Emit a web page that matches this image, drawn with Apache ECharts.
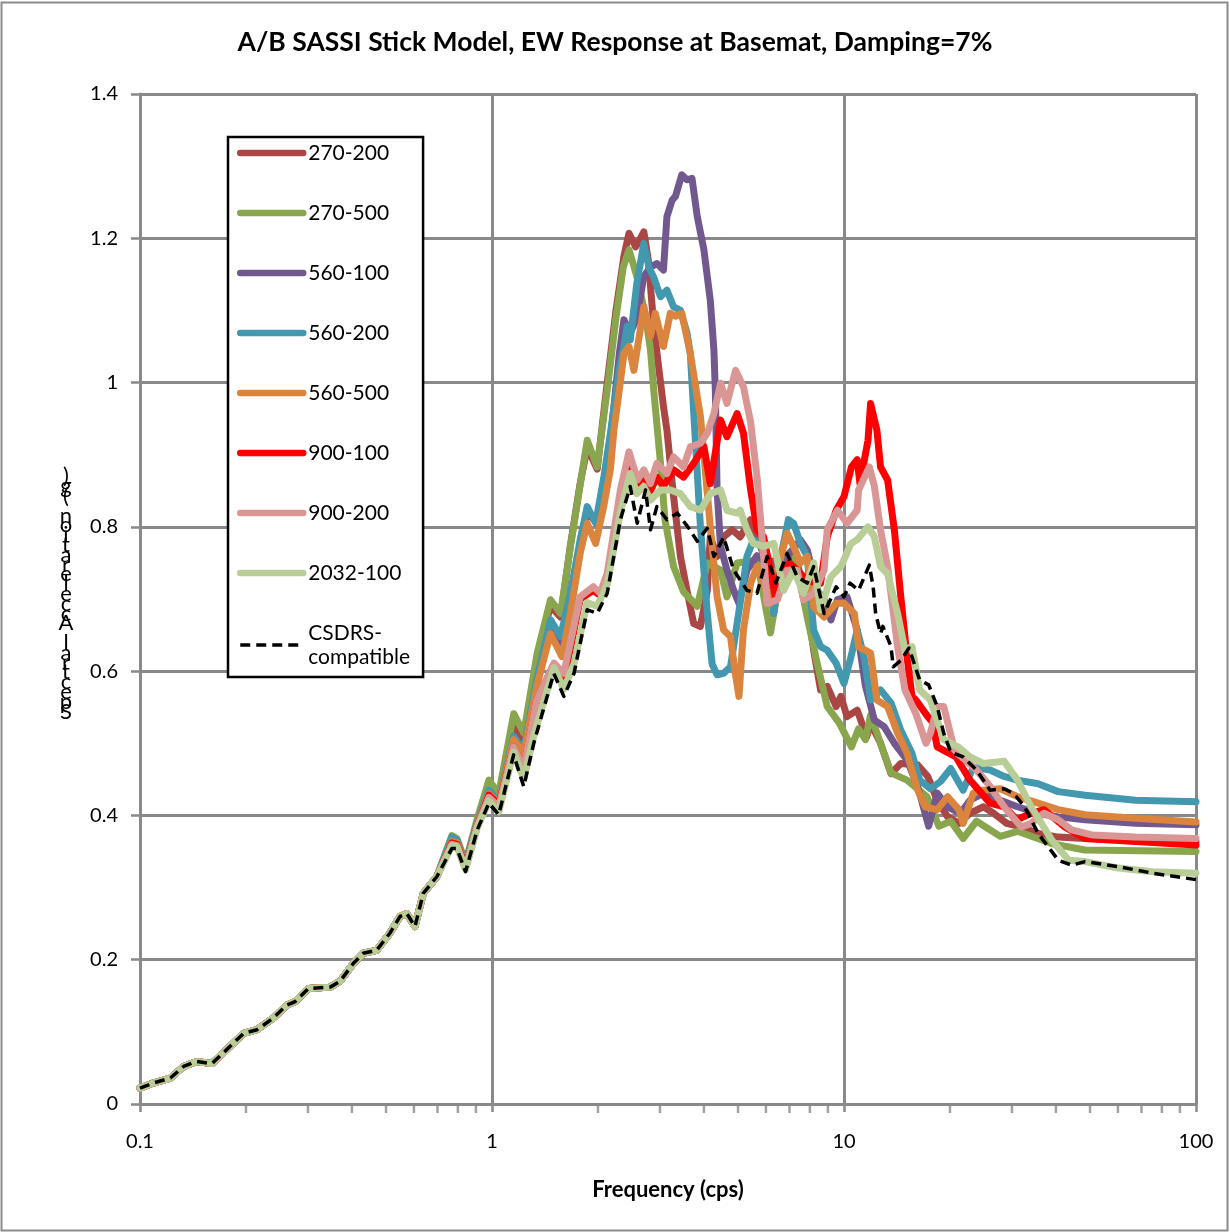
<!DOCTYPE html>
<html>
<head>
<meta charset="utf-8">
<script src="https://cdn.jsdelivr.net/npm/echarts@6/dist/echarts.min.js"></script>
<style>
  html, body { margin: 0; padding: 0; background: #fff; }
  #chart { width: 1230px; height: 1232px; }
</style>
</head>
<body>
<div id="chart"></div>
<script>
// Shared low-frequency portion of every spectrum (all models coincide below ~0.7 cps)
const lowFreq  = [0.1, 0.109, 0.122, 0.133, 0.145, 0.16, 0.176, 0.197, 0.215, 0.239, 0.261, 0.276, 0.301, 0.347, 0.37, 0.404, 0.431, 0.47, 0.513, 0.548, 0.573, 0.604, 0.638, 0.697];
const lowAccel = [0.022, 0.029, 0.036, 0.052, 0.059, 0.056, 0.075, 0.098, 0.103, 0.119, 0.137, 0.142, 0.160, 0.162, 0.170, 0.195, 0.209, 0.213, 0.237, 0.260, 0.264, 0.246, 0.292, 0.315];

// [frequency (cps), spectral acceleration (g)] above 0.7 cps
const s270_200 = [[0.769,0.364],[0.795,0.362],[0.841,0.33],[0.908,0.39],[0.98,0.44],[1.045,0.425],[1.152,0.525],[1.231,0.495],[1.344,0.62],[1.466,0.69],[1.566,0.675],[1.671,0.775],[1.78,0.86],[1.864,0.91],[1.99,0.88],[2.125,1.0],[2.25,1.1],[2.37,1.175],[2.45,1.207],[2.56,1.188],[2.7,1.209],[2.78,1.17],[2.88,1.08],[2.96,1.03],[3.07,0.967],[3.14,0.934],[3.28,0.842],[3.43,0.759],[3.58,0.712],[3.74,0.666],[3.91,0.662],[4.09,0.712],[4.17,0.786],[4.36,0.759],[4.55,0.786],[4.81,0.796],[5.07,0.786],[5.43,0.81],[5.79,0.773],[6.05,0.75],[6.4,0.754],[7.0,0.76],[7.36,0.75],[7.86,0.694],[8.2,0.629],[8.58,0.574],[8.96,0.579],[9.5,0.551],[9.8,0.565],[10.2,0.537],[10.9,0.546],[11.6,0.509],[11.9,0.528],[12.7,0.5],[13.6,0.458],[14.5,0.472],[16.2,0.47],[17.3,0.454],[18.4,0.421],[19.7,0.398],[21.2,0.389],[22.8,0.403],[24.9,0.412],[26.6,0.403],[29,0.389],[31.9,0.384],[35.6,0.375],[40.6,0.37],[48.4,0.368],[67.3,0.366],[100,0.364]];
const s270_500 = [[0.769,0.372],[0.795,0.368],[0.841,0.335],[0.908,0.395],[0.98,0.449],[1.045,0.43],[1.153,0.541],[1.231,0.514],[1.344,0.625],[1.466,0.699],[1.566,0.68],[1.671,0.773],[1.864,0.92],[1.989,0.883],[2.125,0.99],[2.25,1.09],[2.36,1.16],[2.45,1.184],[2.58,1.147],[2.73,1.092],[2.82,1.045],[2.88,0.99],[3.01,0.889],[3.1,0.81],[3.28,0.745],[3.5,0.71],[3.83,0.69],[4.09,0.75],[4.46,0.74],[4.65,0.703],[4.97,0.75],[5.66,0.754],[6.18,0.653],[6.74,0.759],[7.19,0.768],[7.86,0.675],[8.39,0.611],[8.96,0.551],[9.7,0.528],[10.5,0.495],[11.0,0.52],[11.5,0.505],[11.9,0.539],[13.6,0.459],[15.1,0.449],[17.2,0.426],[18.6,0.385],[20.1,0.392],[21.8,0.368],[23.8,0.392],[27.8,0.371],[31.1,0.378],[38.9,0.361],[48.3,0.352],[100,0.35]];
const s560_100 = [[0.769,0.366],[0.795,0.364],[0.841,0.332],[0.908,0.39],[0.98,0.43],[1.045,0.42],[1.152,0.505],[1.231,0.49],[1.344,0.585],[1.466,0.665],[1.566,0.64],[1.671,0.7],[1.78,0.775],[1.864,0.82],[1.99,0.805],[2.17,0.92],[2.3,1.04],[2.37,1.087],[2.47,1.068],[2.58,1.09],[2.7,1.147],[2.82,1.16],[2.94,1.165],[3.07,1.156],[3.14,1.23],[3.25,1.253],[3.32,1.258],[3.46,1.288],[3.58,1.281],[3.7,1.283],[3.83,1.23],[4.0,1.184],[4.17,1.114],[4.27,1.045],[4.31,0.99],[4.36,0.85],[4.46,0.773],[4.65,0.74],[4.86,0.712],[5.03,0.694],[5.3,0.74],[5.66,0.76],[6.05,0.75],[6.47,0.74],[6.89,0.759],[7.52,0.782],[7.86,0.768],[8.39,0.712],[8.78,0.699],[9.18,0.671],[9.58,0.699],[10.2,0.703],[10.9,0.657],[11.5,0.58],[12.2,0.532],[13,0.523],[13.9,0.5],[15.1,0.477],[16.2,0.44],[17.4,0.385],[18.4,0.431],[19.7,0.412],[21.4,0.403],[22.8,0.421],[24.9,0.431],[27.8,0.421],[31.1,0.412],[35.6,0.403],[40.6,0.398],[48.4,0.394],[67.3,0.389],[100,0.387]];
const s560_200 = [[0.769,0.37],[0.795,0.366],[0.841,0.332],[0.908,0.39],[0.98,0.435],[1.045,0.42],[1.152,0.51],[1.231,0.49],[1.34,0.588],[1.466,0.671],[1.566,0.648],[1.67,0.708],[1.78,0.782],[1.864,0.828],[1.97,0.805],[2.08,0.87],[2.17,0.93],[2.3,1.02],[2.37,1.05],[2.42,1.078],[2.47,1.059],[2.58,1.138],[2.7,1.193],[2.79,1.16],[2.88,1.146],[3.01,1.119],[3.14,1.128],[3.28,1.105],[3.43,1.1],[3.58,1.069],[3.66,1.04],[3.74,0.96],[3.91,0.8],[4.09,0.68],[4.22,0.61],[4.36,0.595],[4.55,0.597],[4.76,0.606],[5.07,0.694],[5.3,0.759],[5.53,0.782],[5.79,0.777],[6.05,0.74],[6.32,0.68],[6.56,0.75],[6.95,0.81],[7.19,0.805],[7.52,0.777],[7.86,0.759],[8.2,0.657],[8.58,0.634],[8.96,0.629],[9.5,0.611],[10.0,0.583],[10.47,0.62],[10.9,0.657],[11.4,0.62],[11.9,0.56],[12.7,0.574],[13.6,0.556],[14.5,0.518],[15.6,0.486],[16.4,0.449],[17.6,0.437],[18.8,0.447],[20.1,0.465],[21.8,0.435],[23.3,0.467],[26,0.463],[28.5,0.454],[31.1,0.449],[35.6,0.444],[40.6,0.433],[48.4,0.428],[67.3,0.421],[100,0.419]];
const s560_500 = [[0.769,0.364],[0.795,0.362],[0.841,0.33],[0.908,0.388],[0.98,0.43],[1.045,0.418],[1.152,0.505],[1.231,0.486],[1.34,0.579],[1.466,0.652],[1.58,0.62],[1.67,0.68],[1.78,0.763],[1.864,0.805],[1.97,0.777],[2.08,0.83],[2.17,0.88],[2.22,0.934],[2.3,0.99],[2.37,1.04],[2.45,1.05],[2.53,1.017],[2.61,1.059],[2.7,1.105],[2.82,1.064],[2.91,1.096],[3.07,1.05],[3.21,1.096],[3.32,1.092],[3.46,1.096],[3.66,1.04],[3.91,0.953],[4.0,0.9],[4.17,0.8],[4.36,0.703],[4.55,0.657],[4.76,0.648],[4.9,0.6],[5.03,0.565],[5.18,0.657],[5.43,0.722],[5.66,0.745],[5.91,0.722],[6.18,0.694],[6.47,0.74],[6.89,0.791],[7.19,0.773],[7.52,0.75],[7.86,0.759],[8.2,0.689],[8.78,0.675],[9.5,0.694],[10.0,0.694],[10.7,0.68],[11.0,0.634],[11.9,0.625],[12.4,0.56],[13.3,0.551],[14.2,0.514],[15.1,0.486],[16.2,0.435],[17.0,0.412],[18.4,0.408],[19.7,0.426],[21.2,0.408],[21.8,0.389],[23.3,0.431],[24.9,0.435],[27.8,0.437],[31.1,0.426],[35.6,0.417],[40.6,0.408],[48.4,0.401],[67.3,0.396],[100,0.391]];
const s900_100 = [[0.769,0.362],[0.795,0.36],[0.841,0.328],[0.908,0.385],[0.98,0.428],[1.045,0.415],[1.152,0.495],[1.231,0.465],[1.34,0.56],[1.5,0.61],[1.6,0.585],[1.78,0.7],[1.94,0.712],[2.03,0.705],[2.125,0.73],[2.316,0.84],[2.45,0.89],[2.59,0.86],[2.7,0.872],[2.82,0.85],[2.94,0.869],[3.07,0.856],[3.28,0.879],[3.5,0.869],[3.74,0.888],[4.0,0.911],[4.17,0.86],[4.46,0.948],[4.65,0.925],[4.97,0.957],[5.18,0.93],[5.43,0.851],[5.66,0.796],[5.91,0.786],[6.18,0.74],[6.4,0.699],[6.56,0.74],[7.0,0.75],[7.36,0.74],[7.9,0.725],[8.58,0.722],[8.96,0.786],[9.5,0.823],[10.0,0.842],[10.5,0.883],[10.9,0.893],[11.1,0.86],[11.7,0.92],[11.9,0.971],[12.4,0.934],[12.7,0.883],[13.3,0.865],[13.9,0.796],[14.5,0.703],[15.1,0.62],[15.6,0.565],[16.0,0.56],[17.3,0.537],[17.8,0.53],[18.4,0.495],[20.8,0.481],[22.8,0.449],[26,0.417],[28.5,0.412],[31,0.394],[34,0.403],[37,0.408],[42.4,0.384],[48.4,0.368],[67.3,0.364],[100,0.359]];
const s900_200 = [[0.769,0.36],[0.795,0.358],[0.841,0.326],[0.908,0.385],[0.98,0.425],[1.045,0.412],[1.152,0.495],[1.231,0.465],[1.34,0.56],[1.5,0.611],[1.6,0.597],[1.78,0.703],[1.94,0.717],[2.03,0.708],[2.125,0.736],[2.316,0.851],[2.45,0.904],[2.59,0.865],[2.7,0.879],[2.82,0.86],[2.94,0.888],[3.14,0.874],[3.28,0.897],[3.5,0.883],[3.66,0.911],[3.91,0.916],[4.09,0.93],[4.27,0.957],[4.46,0.999],[4.65,0.971],[4.92,1.017],[5.18,0.994],[5.43,0.945],[5.66,0.87],[5.91,0.76],[6.05,0.694],[6.47,0.699],[6.89,0.74],[7.36,0.74],[7.68,0.699],[8.2,0.708],[8.78,0.74],[8.96,0.796],[9.58,0.823],[10.2,0.805],[10.9,0.823],[11.0,0.851],[11.8,0.883],[12.2,0.856],[12.7,0.796],[13.3,0.745],[14.2,0.634],[14.9,0.574],[16.0,0.541],[17.1,0.5],[17.6,0.514],[18.4,0.551],[19.2,0.551],[20.6,0.491],[21.0,0.486],[23.8,0.463],[26,0.44],[28.5,0.412],[31.9,0.384],[34,0.389],[37,0.403],[40.6,0.394],[44.3,0.38],[50.6,0.373],[67.3,0.37],[100,0.368]];
const s2032_100 = [[0.769,0.358],[0.795,0.357],[0.841,0.325],[0.908,0.383],[0.98,0.42],[1.045,0.405],[1.152,0.488],[1.231,0.45],[1.314,0.51],[1.5,0.605],[1.6,0.575],[1.71,0.61],[1.864,0.695],[1.99,0.69],[2.125,0.72],[2.316,0.82],[2.47,0.874],[2.58,0.846],[2.7,0.856],[2.82,0.837],[3.01,0.851],[3.21,0.851],[3.43,0.846],[3.66,0.828],[3.91,0.823],[4.17,0.846],[4.46,0.851],[4.65,0.823],[4.97,0.819],[5.07,0.823],[5.3,0.796],[5.53,0.777],[5.91,0.773],[6.32,0.777],[6.74,0.712],[7.19,0.74],[7.68,0.708],[8.2,0.75],[8.58,0.685],[9.18,0.731],[9.8,0.745],[10.47,0.777],[10.9,0.782],[11.7,0.80],[12.2,0.786],[12.7,0.745],[13.3,0.735],[14.2,0.68],[14.9,0.629],[15.6,0.634],[16.4,0.574],[17.6,0.56],[19.2,0.505],[21.1,0.495],[22.8,0.481],[24.9,0.472],[28.5,0.475],[31.1,0.449],[34,0.412],[38.9,0.366],[43.5,0.338],[48.4,0.336],[60.2,0.327],[75.2,0.322],[100,0.32]];
const sCSDRS = [[0.769,0.354],[0.795,0.354],[0.841,0.322],[0.908,0.38],[0.98,0.417],[1.045,0.401],[1.152,0.484],[1.231,0.44],[1.314,0.5],[1.498,0.597],[1.6,0.565],[1.71,0.597],[1.864,0.685],[1.99,0.68],[2.125,0.708],[2.316,0.81],[2.47,0.856],[2.585,0.805],[2.73,0.851],[2.82,0.796],[2.94,0.828],[3.14,0.81],[3.36,0.819],[3.6,0.80],[3.83,0.78],[4.09,0.798],[4.27,0.759],[4.55,0.786],[4.86,0.74],[5.3,0.712],[5.66,0.708],[6.05,0.759],[6.4,0.722],[6.89,0.763],[7.36,0.731],[7.86,0.722],[8.2,0.745],[8.78,0.68],[9.5,0.717],[10.0,0.703],[10.4,0.722],[11.0,0.712],[11.8,0.747],[12.1,0.717],[12.3,0.68],[12.7,0.652],[12.9,0.662],[13.6,0.634],[13.8,0.606],[14.5,0.615],[15.3,0.632],[16.4,0.588],[17.4,0.581],[18.4,0.551],[19.2,0.514],[20.1,0.488],[21.8,0.481],[23.8,0.463],[26,0.435],[28.5,0.437],[30.4,0.43],[32.6,0.412],[35.6,0.375],[40.6,0.338],[44.4,0.331],[48.4,0.336],[60.2,0.329],[75.2,0.32],[100,0.311]];

const seriesNames  = ['270-200', '270-500', '560-100', '560-200', '560-500', '900-100', '900-200', '2032-100', 'CSDRS-compatible'];
const seriesColors = ['#AA4643', '#89A54E', '#71588F', '#4198AF', '#DB843D', '#FF0000', '#D99694', '#B9CD96', '#000000'];
const seriesUpper  = [s270_200, s270_500, s560_100, s560_200, s560_500, s900_100, s900_200, s2032_100, sCSDRS];

// Logarithmic minor tick positions on the frequency axis
const minorTickFreqs = [0.2,0.3,0.4,0.5,0.6,0.7,0.8,0.9, 2,3,4,5,6,7,8,9, 20,30,40,50,60,70,80,90];
const yTicks = { min: 0, max: 1.4, step: 0.2 };

const chartTitle = 'A/B SASSI Stick Model, EW Response at Basemat, Damping=7%';
const xTitle = 'Frequency (cps)';
const yTitle = 'Spectral Acceleration (g)';

const FONT = 'Lato, "Noto Sans", sans-serif';
const GRID_GREY = '#898989';
const REF_NAME = 'CSDRS-compatible';
const SOLID_W = 7;
const DASH_W = 3.5;

function fullSpectrum(upper) {
  return lowFreq.map((f, i) => [f, lowAccel[i]]).concat(upper);
}

const lineSeries = seriesNames.map((name, i) => {
  const dashed = name === REF_NAME;
  return {
    name: name,
    type: 'line',
    data: fullSpectrum(seriesUpper[i]),
    showSymbol: false,
    symbol: 'none',
    color: seriesColors[i],
    lineStyle: {
      color: seriesColors[i],
      width: dashed ? DASH_W : SOLID_W,
      type: dashed ? [10, 6] : 'solid',
      cap: dashed ? 'butt' : 'round',
      join: 'round'
    },
    z: 3 + i,
    animation: false
  };
});

const minorTicks = {
  name: 'minorTicks',
  type: 'scatter',
  data: minorTickFreqs.map(f => [f, 0]),
  symbol: 'rect',
  symbolSize: [2.5, 8],
  symbolOffset: [0, 5],
  itemStyle: { color: GRID_GREY },
  clip: false,
  silent: true,
  z: 1,
  animation: false
};

const legendItems = seriesNames.map(n => ({
  name: n,
  itemStyle: { opacity: 0 },
  lineStyle: { width: n === REF_NAME ? DASH_W : 6.5 }
}));

const chart = echarts.init(document.getElementById('chart'), null, { renderer: 'canvas' });

chart.setOption({
  backgroundColor: '#fff',
  animation: false,
  title: {
    text: chartTitle,
    left: 'center',
    top: 24,
    textStyle: { fontFamily: FONT, fontSize: 26.5, fontWeight: 'bold', color: '#000' }
  },
  grid: { left: 140, right: 34, top: 94, bottom: 128, containLabel: false },
  legend: {
    data: legendItems,
    orient: 'vertical',
    left: 228,
    top: 137,
    itemWidth: 63,
    itemHeight: 14,
    itemGap: 36,
    padding: [4, 13, 8, 9],
    borderColor: '#000',
    borderWidth: 2.5,
    backgroundColor: '#fff',
    selectedMode: false,
    formatter: n => n === REF_NAME ? 'CSDRS-\ncompatible' : n,
    textStyle: { fontFamily: FONT, fontSize: 21, lineHeight: 24, color: '#000' }
  },
  xAxis: {
    type: 'log',
    logBase: 10,
    min: 0.1,
    max: 100,
    name: xTitle,
    nameLocation: 'middle',
    nameGap: 75,
    nameTextStyle: { fontFamily: FONT, fontSize: 22, fontWeight: 'bold', color: '#000' },
    axisLine: { lineStyle: { color: GRID_GREY, width: 3 } },
    axisTick: { show: true, length: 8, lineStyle: { color: GRID_GREY, width: 2.5 } },
    axisLabel: { margin: 28, fontFamily: FONT, fontSize: 20, color: '#000' },
    splitLine: { show: true, lineStyle: { color: GRID_GREY, width: 3 } },
    minorTick: { show: false },
    minorSplitLine: { show: false }
  },
  yAxis: {
    type: 'value',
    min: yTicks.min,
    max: yTicks.max,
    interval: yTicks.step,
    axisLine: { show: true, lineStyle: { color: GRID_GREY, width: 3 } },
    axisTick: { show: true, length: 9, lineStyle: { color: GRID_GREY, width: 2.5 } },
    axisLabel: { margin: 22, fontFamily: FONT, fontSize: 20, color: '#000' },
    splitLine: { show: true, lineStyle: { color: GRID_GREY, width: 3 } }
  },
  graphic: [
    {
      type: 'rect',
      silent: true,
      shape: { x: 1.5, y: 2.5, width: 1226, height: 1228 },
      style: { fill: 'none', stroke: '#8c8c8c', lineWidth: 2 }
    },
    {
      // vertical axis title, one glyph per line stacked bottom-up
      type: 'text',
      silent: true,
      x: 66,
      y: 594,
      style: {
        text: yTitle.split('').reverse().join('\n'),
        fontFamily: 'Lato, "Noto Sans", sans-serif',
        fontSize: 22,
        fontWeight: 'normal',
        fill: '#000',
        align: 'center',
        verticalAlign: 'middle',
        lineHeight: 9.8
      }
    }
  ],
  series: lineSeries.concat([minorTicks])
});
</script>
</body>
</html>
